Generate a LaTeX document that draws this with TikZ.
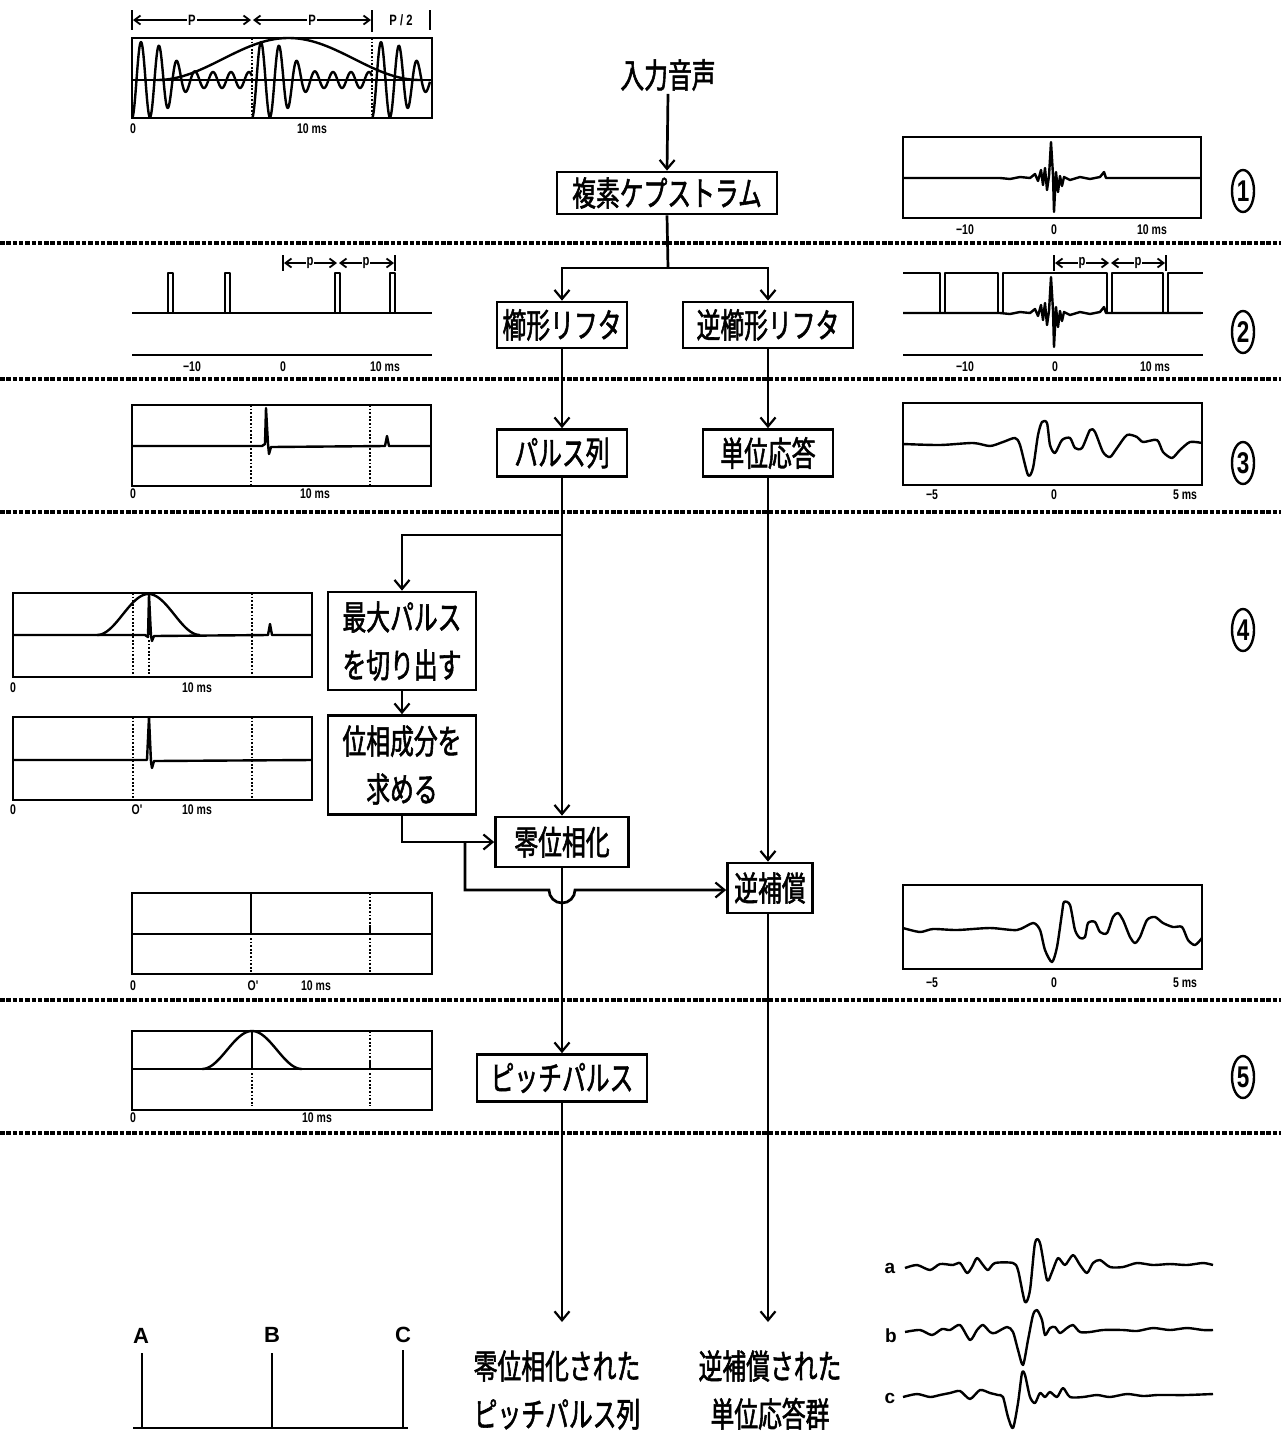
\documentclass[tikz,border=0pt]{standalone}
\usepackage{fontspec}
\setmainfont{Liberation Sans}
\newfontfamily\jp[FakeStretch=0.7,FakeBold=1.6]{Noto Sans CJK JP}
\newfontfamily\narrowsf[FakeStretch=0.75]{Liberation Sans}
\usetikzlibrary{arrows.meta,shapes.geometric}
\newcommand\jpbox{\jp\fontsize{34}{48}\selectfont}
\newcommand\cepwave{\draw[wave] (903,178)--(1000,178)--(1010,179)--(1020,177)--(1030,178)--(1035,174)--(1038,181)--(1041,170)--(1043,185)--(1045,168)--(1047,190)--(1049,176)--(1051,142)--(1053,175)--(1054,212)--(1056,172)--(1058,192)--(1060,176)--(1062,186)--(1064,177)--(1070,180)--(1080,177)--(1090,179)--(1100,177)--(1104,172)--(1106,178)--(1201,178);}
\tikzset{
  ln/.style={line width=2.7pt},
  arr/.style={line width=2.7pt, -{Straight Barb[length=9pt,width=15pt,line width=2.2pt]}},
  box/.style={draw, line width=2.7pt, font=\jpbox, inner sep=0pt, align=center},
  frame/.style={line width=2.5pt},
  wave/.style={line width=2.4pt, line join=round},
  dots/.style={line width=2.2pt, dash pattern=on 1.8pt off 1.8pt},
  sep/.style={line width=3.2pt, dash pattern=on 4.5pt off 1.8pt},
  ax/.style={font=\narrowsf\bfseries\fontsize{14}{14}\selectfont, inner sep=0pt},
  dim/.style={line width=1.8pt, {Straight Barb[length=6pt,width=9pt]}-{Straight Barb[length=6pt,width=9pt]}},
  dimlab/.style={fill=white, inner sep=1pt, font=\narrowsf\bfseries\fontsize{15}{15}\selectfont},
  circ/.style={draw, ellipse, line width=2.4pt, minimum width=22pt, minimum height=42pt, inner sep=0pt, font=\narrowsf\bfseries\fontsize{30}{30}\selectfont},
  jptext/.style={font=\jpbox, align=center, inner sep=0pt}
}
\begin{document}
\begin{tikzpicture}[x=1pt,y=-1pt]
\useasboundingbox (0,0) rectangle (1281,1436);
\fill[white] (0,0) rectangle (1281,1436);

% ---------- separators ----------
\foreach \yy in {243,379,512,1000,1133} \draw[sep] (0,\yy) -- (1281,\yy);

% ---------- circled numbers ----------
\node[circ] (n1) at (1243,191) {1};
\node[circ] (n2) at (1243,332) {2};
\node[circ] (n3) at (1243,463) {3};
\node[circ] (n4) at (1243,630) {4};
\node[circ] (n5) at (1243,1077) {5};

% ---------- main flow ----------
\node[jptext] (in) at (668,75) {入力音声};
\node[box, minimum width=220pt, minimum height=42pt] (cep) at (667,193) {複素ケプストラム};
\node[box, minimum width=130pt, minimum height=46pt] (comb) at (562,325) {櫛形リフタ};
\node[box, minimum width=170pt, minimum height=46pt] (icomb) at (768,325) {逆櫛形リフタ};
\node[box, minimum width=130pt, minimum height=47pt] (pulse) at (562,453) {パルス列};
\node[box, minimum width=130pt, minimum height=47pt] (unit) at (768,453) {単位応答};
\node[box, minimum width=148pt, minimum height=98pt] (maxp) at (402,641) {最大パルス\\を切り出す};
\node[box, minimum width=148pt, minimum height=99pt] (phase) at (402,765) {位相成分を\\求める};
\node[box, minimum width=133pt, minimum height=50pt] (zero) at (562,842) {零位相化};
\node[box, minimum width=85pt, minimum height=50pt] (inv) at (770,888) {逆補償};
\node[box, minimum width=170pt, minimum height=47pt] (pitch) at (562,1078) {ピッチパルス};
\node[jptext] (outA) at (557,1390) {零位相化された\\ピッチパルス列};
\node[jptext] (outB) at (770,1390) {逆補償された\\単位応答群};

\coordinate (split) at (668,268);
\coordinate (br) at (562,535);
\coordinate (j1) at (465,842);
\coordinate (j2) at (465,890);
\coordinate (endA) at (562,1322);
\coordinate (endB) at (768,1322);

\draw[arr] (in.south) ++(0,3) -- (cep.north);
\draw[ln] (cep.south) -- (split);
\draw[arr] (split) -| (comb.north);
\draw[arr] (split) -| (icomb.north);
\draw[arr] (comb.south) -- (pulse.north);
\draw[arr] (icomb.south) -- (unit.north);
\draw[arr] (pulse.south) -- (zero.north);
\draw[arr] (br) -| (maxp.north);
\draw[arr] (maxp.south) -- (phase.north);
\draw[arr] (phase.south) |- (zero.west);
\draw[arr] (j1) -- (j2) -- (549,890) arc[start angle=180, end angle=0, radius=13] -- (inv.west |- j2);
\draw[arr] (unit.south) -- (unit.south |- inv.north);
\draw[arr] (zero.south) -- (pitch.north);
\draw[arr] (pitch.south) -- (endA);
\draw[arr] (inv.south -| endB) -- (endB);

% ---------- row 0 : input waveform ----------
\draw[line width=1.8pt] (132,10)--(132,30) (372,10)--(372,32) (430,10)--(430,30);
\draw[dim] (133,20)--(251,20);
\draw[dim] (253,20)--(371,20);
\node[dimlab] (dP1) at (192,20) {P};
\node[dimlab] (dP2) at (312,20) {P};
\node[dimlab] (dP3) at (401,20) {P / 2};
\draw[frame] (132,38) rectangle (432,118);
\draw[frame] (132,80) -- (432,80);
\draw[dots] (252,38) -- (252,118);
\draw[dots] (372,38) -- (372,118);
\draw[wave] plot[domain=0:120,samples=241] ({132+\x},{80+(8+30*exp(-min((\x/45)^4,12)))*cos(20*\x)});
\draw[wave] plot[domain=0:120,samples=241] ({252+\x},{80+(8+30*exp(-min((\x/45)^4,12)))*cos(20*\x)});
\draw[wave] plot[domain=0:58,samples=120] ({372+\x},{80+(8+30*exp(-min((\x/45)^4,12)))*cos(20*\x)});
\draw[wave] plot[domain=157:420,samples=80] (\x,{80-42*(0.5-0.5*cos((\x-157)/263*360))});
\node[ax] (a0a) at (133,129) {0};
\node[ax] (a0b) at (312,129) {10 ms};

% ---------- row 1 right : cepstrum ----------
\draw[frame] (903,137) rectangle (1201,218);
\cepwave
\node[ax] (a1a) at (965,230) {−10};
\node[ax] (a1b) at (1054,230) {0};
\node[ax] (a1c) at (1152,230) {10 ms};

% ---------- row 2 left : comb lifter ----------
\draw[line width=1.8pt] (283,255)--(283,271) (395,255)--(395,271);
\draw[dim] (284,263)--(337,263);
\draw[dim] (339,263)--(394,263);
\node[dimlab] (dp1) at (310,263) {p};
\node[dimlab] (dp2) at (366,263) {p};
\draw[wave] (132,313) -- (432,313);
\foreach \px in {168,225,335,390} \draw[wave] (\px,313)--(\px,273)--(\px+5,273)--(\px+5,313);
\draw[frame] (132,355) -- (432,355);
\node[ax] (a2a) at (192,367) {−10};
\node[ax] (a2b) at (283,367) {0};
\node[ax] (a2c) at (385,367) {10 ms};

% ---------- row 2 right : inverse comb lifter ----------
\draw[line width=1.8pt] (1054,255)--(1054,271) (1166,255)--(1166,271);
\draw[dim] (1055,263)--(1109,263);
\draw[dim] (1111,263)--(1165,263);
\node[dimlab] (dp3) at (1082,263) {p};
\node[dimlab] (dp4) at (1138,263) {p};
\draw[wave] (903,273)--(940,273)--(940,313)--(945,313)--(945,273)--(998,273)--(998,313)--(1003,313)--(1003,273)--(1107,273)--(1107,313)--(1112,313)--(1112,273)--(1163,273)--(1163,313)--(1168,313)--(1168,273)--(1203,273);
\begin{scope}[yshift=-135pt]\cepwave\end{scope}
\draw[wave] (1201,313)--(1203,313);
\draw[frame] (903,355) -- (1203,355);
\node[ax] (a2d) at (965,367) {−10};
\node[ax] (a2e) at (1055,367) {0};
\node[ax] (a2f) at (1155,367) {10 ms};

% ---------- row 3 left : pulse train ----------
\draw[frame] (132,405) rectangle (431,486);
\draw[dots] (251,405) -- (251,486);
\draw[dots] (370,405) -- (370,486);
\draw[wave] (132,446)--(262,446)--(265,444)--(266,408)--(268,444)--(269,454)--(271,447)--(385,446)--(387,436)--(389,446)--(431,446);
\node[ax] (a3a) at (133,494) {0};
\node[ax] (a3b) at (315,494) {10 ms};

% ---------- row 3 right : unit response ----------
\draw[frame] (903,403) rectangle (1202,485);
\draw[wave] plot[smooth, tension=0.45] coordinates {(903,444) (940,445) (973,443) (990,446) (1003,442) (1015,438) (1020,445) (1028,475) (1033,468) (1038,435) (1042,422) (1047,423) (1050,445) (1055,453) (1062,440) (1070,438) (1075,448) (1082,448) (1090,430) (1095,432) (1103,452) (1110,457) (1117,448) (1127,435) (1137,437) (1143,442) (1157,440) (1163,452) (1172,458) (1180,450) (1190,442) (1202,443)};
\node[ax] (a3c) at (932,495) {−5};
\node[ax] (a3d) at (1054,495) {0};
\node[ax] (a3e) at (1185,495) {5 ms};

% ---------- row 4 : max pulse cut ----------
\draw[frame] (13,593) rectangle (312,677);
\draw[dots] (133,593) -- (133,677);
\draw[dots] (149,640) -- (149,677);
\draw[dots] (252,593) -- (252,677);
\draw[wave] plot[domain=97:200,samples=60] (\x,{635-41*(0.5-0.5*cos((\x-97)/103*360))});
\draw[wave] (13,635)--(145,635)--(148,637)--(149,595)--(151,636)--(152,641)--(154,636)--(268,635)--(270,624)--(272,635)--(312,635);
\node[ax] (a4a) at (13,688) {0};
\node[ax] (a4b) at (197,688) {10 ms};

\draw[frame] (13,717) rectangle (312,800);
\draw[dots] (133,717) -- (133,800);
\draw[dots] (252,717) -- (252,800);
\draw[wave] (13,760)--(147,760)--(149,717)--(151,762)--(152,768)--(154,761)--(312,760);
\node[ax] (a4c) at (13,810) {0};
\node[ax] (a4d) at (137,810) {O'};
\node[ax] (a4e) at (197,810) {10 ms};

% ---------- row 4b left : zero phased ----------
\draw[frame] (132,893) rectangle (432,974);
\draw[wave] (132,934) -- (432,934);
\draw[wave] (251,893) -- (251,934);
\draw[dots] (251,938) -- (251,972);
\draw[dots] (370,893) -- (370,930);
\draw[wave] (370,934) -- (370,925);
\draw[dots] (370,938) -- (370,972);
\node[ax] (a5a) at (133,986) {0};
\node[ax] (a5b) at (253,986) {O'};
\node[ax] (a5c) at (316,986) {10 ms};

% ---------- row 4b right : inverse compensated ----------
\draw[frame] (903,885) rectangle (1202,969);
\draw[wave] plot[smooth, tension=0.45] coordinates {(903,928) (920,932) (933,929) (957,930) (990,928) (1017,930) (1033,923) (1040,930) (1045,950) (1052,962) (1057,947) (1062,913) (1064,902) (1070,905) (1075,930) (1080,938) (1085,937) (1088,923) (1095,922) (1100,932) (1107,933) (1113,917) (1118,913) (1123,920) (1130,937) (1135,943) (1140,937) (1147,920) (1155,917) (1163,923) (1173,927) (1182,927) (1188,940) (1195,945) (1202,938)};
\node[ax] (a5d) at (932,983) {−5};
\node[ax] (a5e) at (1054,983) {0};
\node[ax] (a5f) at (1185,983) {5 ms};

% ---------- row 5 left : pitch pulse ----------
\draw[frame] (132,1031) rectangle (432,1110);
\draw[wave] (132,1069) -- (432,1069);
\draw[wave] plot[domain=202:302,samples=60] (\x,{1069-38*(0.5-0.5*cos((\x-202)/100*360))});
\draw[wave] (252,1031) -- (252,1069);
\draw[dots] (252,1073) -- (252,1106);
\draw[dots] (370,1031) -- (370,1064);
\draw[wave] (370,1069) -- (370,1062);
\draw[dots] (370,1073) -- (370,1106);
\node[ax] (a6a) at (133,1118) {0};
\node[ax] (a6b) at (317,1118) {10 ms};

% ---------- bottom left : A B C ----------
\draw[wave] (133,1428) -- (408,1428);
\draw[ln] (142,1353) -- (142,1428);
\draw[ln] (272,1353) -- (272,1428);
\draw[ln] (403,1350) -- (403,1428);
\node[font=\bfseries\fontsize{22}{22}\selectfont, inner sep=0pt] (lA) at (141,1336) {A};
\node[font=\bfseries\fontsize{22}{22}\selectfont, inner sep=0pt] (lB) at (272,1335) {B};
\node[font=\bfseries\fontsize{22}{22}\selectfont, inner sep=0pt] (lC) at (403,1335) {C};

% ---------- bottom right : a b c ----------
\node[font=\bfseries\fontsize{19}{19}\selectfont, inner sep=0pt] (la) at (890,1268) {a};
\node[font=\bfseries\fontsize{19}{19}\selectfont, inner sep=0pt] (lb) at (891,1336) {b};
\node[font=\bfseries\fontsize{19}{19}\selectfont, inner sep=0pt] (lc) at (890,1398) {c};
\draw[wave] plot[smooth, tension=0.45] coordinates {(905,1268) (917,1265) (930,1270) (940,1264) (953,1265) (960,1263) (967,1273) (972,1267) (977,1258) (983,1265) (988,1270) (995,1263) (1013,1263) (1018,1270) (1025,1302) (1030,1290) (1035,1243) (1040,1243) (1047,1280) (1052,1272) (1058,1258) (1065,1265) (1073,1255) (1080,1265) (1087,1273) (1093,1263) (1100,1260) (1110,1267) (1123,1267) (1137,1263) (1153,1265) (1170,1264) (1187,1265) (1203,1263) (1213,1265)};
\draw[wave] plot[smooth, tension=0.45] coordinates {(905,1332) (920,1330) (932,1335) (942,1329) (950,1330) (960,1325) (970,1340) (977,1330) (983,1325) (990,1332) (995,1333) (1007,1327) (1013,1332) (1018,1350) (1023,1365) (1028,1340) (1033,1315) (1037,1310) (1042,1320) (1045,1335) (1050,1328) (1055,1327) (1060,1333) (1067,1328) (1073,1325) (1080,1332) (1090,1332) (1103,1330) (1123,1330) (1137,1331) (1153,1328) (1170,1330) (1187,1328) (1203,1330) (1213,1330)};
\draw[wave] plot[smooth, tension=0.45] coordinates {(903,1397) (917,1394) (930,1397) (940,1395) (950,1393) (960,1391) (970,1399) (980,1390) (990,1393) (998,1395) (1003,1397) (1008,1417) (1013,1428) (1018,1403) (1022,1373) (1025,1375) (1030,1397) (1035,1403) (1040,1393) (1045,1397) (1050,1392) (1057,1397) (1063,1388) (1070,1397) (1083,1397) (1097,1395) (1110,1397) (1127,1394) (1143,1396) (1157,1395) (1170,1395) (1187,1395) (1213,1394)};
\end{tikzpicture}
\end{document}
